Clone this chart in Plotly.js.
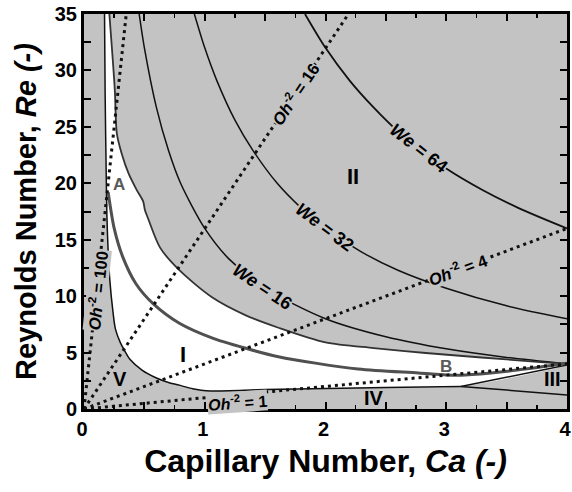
<!DOCTYPE html>
<html>
<head>
<meta charset="utf-8">
<script src="https://cdn.plot.ly/plotly-3.0.1.min.js"></script>
<style>html,body{margin:0;padding:0;background:#fff;}#chart{width:572px;height:492px;}</style>
</head>
<body>
<div id="chart"></div>
<script>
// ---- Regime boundary curves ----
// left boundary (region V) continuing into the lower boundary of region I
var vCa = [0.17, 0.175, 0.185, 0.19, 0.2, 0.214, 0.24, 0.26, 0.3, 0.34, 0.38, 0.48, 0.6, 0.7, 0.81, 0.9, 0.97, 1.05, 1.5, 2.0, 2.5, 3.12];
var vRe = [35, 28, 20, 17, 14, 11.4, 8.6, 7.1, 5.9, 5.1, 4.4, 3.45, 2.75, 2.35, 2.05, 1.8, 1.67, 1.6, 1.72, 1.82, 1.9, 2.0];
// upper boundary of the white band
var upCa = [0.21, 0.255, 0.272, 0.313, 0.368, 0.437, 0.49, 0.505, 0.53, 0.63, 0.79, 1.06, 1.34, 1.61, 2.0, 2.4, 2.83, 3.78, 4.0];
var upRe = [35, 28.3, 24.4, 22.6, 20.9, 19.4, 18.4, 17.6, 16.9, 14.3, 12.3, 9.9, 8.3, 7.2, 5.9, 5.4, 4.96, 4.16, 4.0];
// A-B transition curve
var abCa = [0.2, 0.25, 0.32, 0.43, 0.57, 0.79, 1.07, 1.34, 1.61, 2.27, 2.77, 3.0, 3.12, 3.37, 3.59, 4.0];
var abRe = [19.2, 16.0, 13.5, 11.1, 9.36, 7.6, 6.26, 5.38, 4.63, 3.54, 3.19, 3.02, 3.0, 3.2, 3.45, 4.05];
// region III boundaries
var riseCa = [3.12, 4.0];
var riseRe = [2.0, 3.9];
var fallCa = [3.12, 4.0];
var fallRe = [2.0, 1.25];
// constant Weber number curves
var we16Ca = [0.457, 0.5, 0.6, 0.7, 0.8, 1.0, 1.2, 1.5, 2.0, 2.5, 3.0, 3.5, 4.0];
var we16Re = [35, 32, 26.7, 22.9, 20, 16, 13.3, 10.7, 8, 6.4, 5.33, 4.57, 4];
var we32Ca = [0.914, 1.0, 1.1, 1.25, 1.4, 1.6, 1.8, 2.0, 2.3, 2.6, 3.0, 3.5, 4.0];
var we32Re = [35, 32, 29.1, 25.6, 22.9, 20, 17.8, 16, 13.9, 12.3, 10.7, 9.14, 8];
var we64Ca = [1.83, 2.0, 2.2, 2.4, 2.6, 2.8, 3.0, 3.3, 3.6, 4.0];
var we64Re = [35, 32, 29.1, 26.7, 24.6, 22.9, 21.3, 19.4, 17.8, 16];
// constant Ohnesorge number lines
var oh100Ca = [0, 0.35];  var oh100Re = [0, 35];
var oh16Ca = [0, 2.19];   var oh16Re = [0, 35];
var oh4Ca = [0, 4];       var oh4Re = [0, 16];
var oh1Ca = [0, 4];       var oh1Re = [0, 4];
// tick labels
var xTickVals = [0, 0.5, 1, 1.5, 2, 2.5, 3, 3.5, 4];
var xTickText = ['0', '', '1', '', '2', '', '3', '', '4'];
var yTickVals = [0, 2.5, 5, 7.5, 10, 12.5, 15, 17.5, 20, 22.5, 25, 27.5, 30, 32.5, 35];
var yTickText = ['0', '', '5', '', '10', '', '15', '', '20', '', '25', '', '30', '', '35'];

var GRAY = '#c3c3c3';
var FONT = 'Liberation Sans, Arial, sans-serif';

// white band polygon built from the boundary arrays
var fillCa = vCa.concat([4.0]).concat(upCa.slice().reverse());
var fillRe = vRe.concat([3.9]).concat(upRe.slice().reverse());

function line(x, y, color, width, shape, dash) {
  return {x: x, y: y, mode: 'lines', type: 'scatter', hoverinfo: 'skip', showlegend: false,
    line: {color: color, width: width, shape: shape || 'linear', smoothing: 0.8, dash: dash || 'solid'}};
}

var traces = [
  {x: fillCa, y: fillRe, mode: 'lines', fill: 'toself', fillcolor: '#ffffff', line: {width: 0, shape: 'spline', smoothing: 0.6}, hoverinfo: 'skip', showlegend: false},
  line(we16Ca, we16Re, '#111', 1.5, 'spline'),
  line(we32Ca, we32Re, '#111', 1.5, 'spline'),
  line(we64Ca, we64Re, '#111', 1.8, 'spline'),
  line(vCa, vRe, '#111', 1.5, 'spline'),
  line(upCa, upRe, '#333', 1.8, 'spline'),
  line(riseCa, riseRe, '#111', 1.5),
  line(fallCa, fallRe, '#111', 1.5),
  line(abCa, abRe, '#505050', 3, 'spline'),
  line(oh100Ca, oh100Re, '#111', 3, 'linear', '3px,4px'),
  line(oh16Ca, oh16Re, '#111', 3, 'linear', '3px,4px'),
  line(oh4Ca, oh4Re, '#111', 3, 'linear', '3px,4px'),
  line(oh1Ca, oh1Re, '#111', 3, 'linear', '3px,4px')
];

function ann(x, y, text, size, angle, opts) {
  var a = {x: x, y: y, xref: 'x', yref: 'y', text: text, showarrow: false, textangle: angle || 0,
    font: {family: FONT, size: size, color: '#000', weight: 'bold'}};
  if (opts) for (var k in opts) a[k] = opts[k];
  return a;
}
var bg = {bgcolor: GRAY, borderpad: 0};

var annotations = [
  ann(2.77, 23.1, '<i>We</i> = 64', 18, 38, bg),
  ann(1.99, 16.1, '<i>We</i> = 32', 18, 37, bg),
  ann(1.48, 10.85, '<i>We</i> = 16', 18, 34, bg),
  ann(1.745, 27.9, '<i>Oh</i><sup>-2</sup> = 16', 16.5, -56, bg),
  ann(3.1, 12.4, '<i>Oh</i><sup>-2</sup> = 4', 16.5, -20, bg),
  ann(0.105, 10.5, '<i>Oh</i><sup>-2</sup> = 100', 16.5, -84, bg),
  ann(1.27, 0.6, '<i>Oh</i><sup>-2</sup> = 1', 16, -4, bg),
  ann(0.29, 19.9, 'A', 17, 0, {font: {family: FONT, size: 17, color: '#5a5a5a', weight: 'bold'}}),
  ann(3.0, 3.75, 'B', 17, 0, {font: {family: FONT, size: 17, color: '#5a5a5a', weight: 'bold'}}),
  ann(0.82, 4.8, 'I', 22),
  ann(2.23, 20.6, 'II', 22),
  ann(3.88, 2.63, 'III', 20),
  ann(2.4, 0.95, 'IV', 20),
  ann(0.3, 2.7, 'V', 20)
];

var axisCommon = {
  showgrid: false, zeroline: false, showline: true, linewidth: 3, linecolor: '#000',
  mirror: 'ticks', ticks: 'inside', ticklen: 7, tickwidth: 2, tickcolor: '#000',
  tickmode: 'array', ticklabeloverflow: 'allow',
  tickfont: {family: FONT, size: 20, color: '#000', weight: 'bold'}
};

var layout = {
  width: 572, height: 492,
  margin: {l: 84, r: 5, t: 14, b: 83},
  paper_bgcolor: '#ffffff', plot_bgcolor: GRAY,
  showlegend: false,
  xaxis: Object.assign({}, axisCommon, {
    range: [0, 4], tickvals: xTickVals, ticktext: xTickText, ticklabelshift: -2,
    minor: {tickmode: 'linear', tick0: 0, dtick: 0.25, ticks: 'inside', ticklen: 4, tickwidth: 1.5, tickcolor: '#000'},
    title: {text: 'Capillary Number, <i>Ca (-)</i>', font: {family: FONT, size: 32, color: '#000', weight: 'bold'}, standoff: 11}
  }),
  yaxis: Object.assign({}, axisCommon, {
    range: [0, 35], tickvals: yTickVals, ticktext: yTickText,
    title: {text: 'Reynolds Number, <i>Re (-)</i>', font: {family: FONT, size: 29, color: '#000', weight: 'bold'}, standoff: 10}
  }),
  annotations: annotations
};

Plotly.newPlot('chart', traces, layout, {displayModeBar: false, staticPlot: true});
</script>
</body>
</html>
